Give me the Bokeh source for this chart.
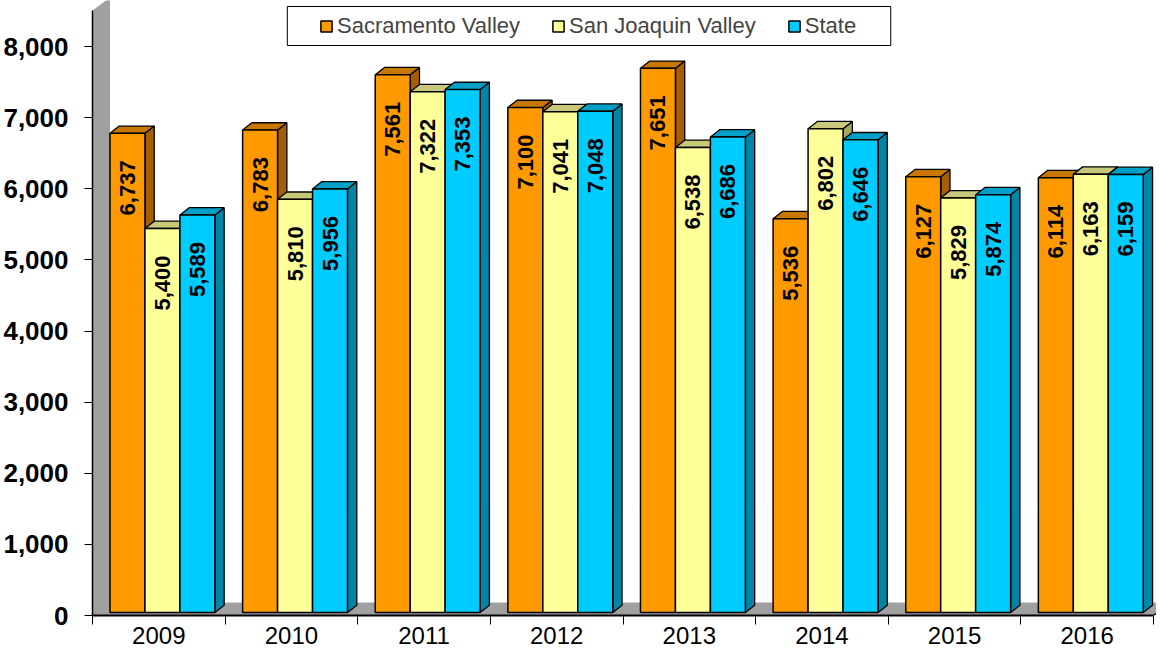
import math
from bokeh.plotting import figure
from bokeh.models import (ColumnDataSource, FixedTicker, NumeralTickFormatter,
                          Legend, LegendItem, Range1d)
from bokeh.core.properties import value
from bokeh.embed import file_html
from bokeh.resources import INLINE

# ---------------- data ----------------
years = ["2009", "2010", "2011", "2012", "2013", "2014", "2015", "2016"]
sacramento_valley = [6737, 6783, 7561, 7100, 7651, 5536, 6127, 6114]
san_joaquin_valley = [5400, 5810, 7322, 7041, 6538, 6802, 5829, 6163]
state = [5589, 5956, 7353, 7048, 6686, 6646, 5874, 6159]
series_names = ["Sacramento Valley", "San Joaquin Valley", "State"]
series_values = [sacramento_valley, san_joaquin_valley, state]
y_ticks = [0, 1000, 2000, 3000, 4000, 5000, 6000, 7000, 8000]

# ---------------- style ----------------
front_colors = ["#FF9900", "#FFFF99", "#00CCFF"]
top_colors = ["#C87800", "#C8C87A", "#00A0C8"]
side_colors = ["#A65F00", "#A6A663", "#0085A6"]
WALL_COLOR = "#A0A0A0"
FONT = "Liberation Sans"

# ---------------- geometry (pixel based) ----------------
W, H = 1156, 654
FRAME_L = 91
FRAME_B = 39
PX_PER_CAT = 132.75
PX_PER_UNIT = 0.071123
XMAX = (W - FRAME_L) / PX_PER_CAT
YMAX = (H - FRAME_B) / PX_PER_UNIT

WALL_TOP = 8500
DX = 17 / PX_PER_CAT
DY = 12.5 / PX_PER_UNIT
BAR_W = 35 / PX_PER_CAT
BAR_BASE = 3 / PX_PER_UNIT
BDX = 9.3 / PX_PER_CAT
BDY = 7.3 / PX_PER_UNIT
N = len(years)

p = figure(width=W, height=H, x_range=Range1d(0, XMAX), y_range=Range1d(0, YMAX),
           output_backend="svg", toolbar_location=None,
           min_border_left=FRAME_L, min_border_right=0, min_border_top=0,
           min_border_bottom=FRAME_B)
p.outline_line_color = None
p.xgrid.visible = False
p.ygrid.visible = False
p.background_fill_color = "white"
p.border_fill_color = "white"

# walls
p.patch([0, 0, DX, DX], [0, WALL_TOP, WALL_TOP + DY, DY],
        fill_color=WALL_COLOR, line_color=WALL_COLOR)
p.patch([0, N, N + DX, DX], [0, 0, DY, DY], fill_color=WALL_COLOR, line_color=WALL_COLOR)
p.line([N, N + DX], [0, DY], line_color="black", line_width=1.5)

# legend box (decoration)
LEG_L = (286 - FRAME_L) / PX_PER_CAT
LEG_R = (890 - FRAME_L) / PX_PER_CAT
LEG_T = (H - FRAME_B - 6) / PX_PER_UNIT
LEG_B = (H - FRAME_B - 45) / PX_PER_UNIT
p.quad(left=[LEG_L], right=[LEG_R], top=[LEG_T], bottom=[LEG_B],
       fill_color="white", line_color="black", line_width=1)

front_renderers = []
label_x, label_y, label_t = [], [], []
for k, vals in enumerate(series_values):
    cx = [i + (k + 1) * BAR_W for i in range(N)]
    x0 = [c - BAR_W / 2 for c in cx]
    x1 = [c + BAR_W / 2 for c in cx]
    tops = [v + BAR_BASE for v in vals]
    side_xs = [[a, a, a + BDX, a + BDX] for a in x1]
    side_ys = [[BAR_BASE, t, t + BDY, BAR_BASE + BDY] for t in tops]
    top_xs = [[a, b, b + BDX, a + BDX] for a, b in zip(x0, x1)]
    top_ys = [[t, t, t + BDY, t + BDY] for t in tops]
    p.patches(side_xs, side_ys, fill_color=side_colors[k], line_color="black", line_width=1.3)
    p.patches(top_xs, top_ys, fill_color=top_colors[k], line_color="black", line_width=1.3)
    src = ColumnDataSource(dict(x=cx, top=tops, bottom=[BAR_BASE] * N))
    r = p.vbar(x="x", width=BAR_W, top="top", bottom="bottom", source=src,
               fill_color=front_colors[k], line_color="black", line_width=1.5)
    front_renderers.append(r)
    label_x += cx
    label_y += tops
    label_t += [f"{v:,}" for v in vals]

lsrc = ColumnDataSource(dict(x=label_x, y=label_y, t=label_t))
p.text(x="x", y="y", text="t", source=lsrc, angle=math.pi / 2,
       text_align="right", text_baseline="middle", y_offset=27,
       text_font=value(FONT), text_font_style="bold", text_font_size=value("22px"),
       text_color="black")

# axes
xa = p.xaxis[0]
xa.ticker = FixedTicker(ticks=[i + 0.5 for i in range(N)], minor_ticks=list(range(N + 1)))
xa.major_label_overrides = {i + 0.5: y for i, y in enumerate(years)}
xa.major_tick_out = 0
xa.major_tick_in = 0
xa.minor_tick_out = 9
xa.minor_tick_in = 0
xa.minor_tick_line_color = "black"
xa.minor_tick_line_width = 1
xa.axis_line_color = "black"
xa.axis_line_width = 2
xa.bounds = (0, N)
xa.major_label_text_font = FONT
xa.major_label_text_font_size = "24px"
xa.major_label_text_color = "black"
xa.major_label_standoff = 2

ya = p.yaxis[0]
ya.ticker = FixedTicker(ticks=y_ticks)
ya.formatter = NumeralTickFormatter(format="0,0")
ya.major_tick_out = 8
ya.major_tick_in = 0
ya.minor_tick_out = 0
ya.minor_tick_in = 0
ya.major_tick_line_color = "black"
ya.axis_line_color = "black"
ya.axis_line_width = 1.5
ya.bounds = (0, WALL_TOP)
ya.major_label_text_font = FONT
ya.major_label_text_font_size = "26px"
ya.major_label_text_font_style = "bold"
ya.major_label_text_color = "black"
ya.major_label_standoff = 16

legend = Legend(items=[LegendItem(label=n, renderers=[r]) for n, r in zip(series_names, front_renderers)],
                orientation="horizontal", location=(227, 576), padding=0, spacing=31,
                label_standoff=4, glyph_width=14, glyph_height=14, margin=0,
                label_text_font=FONT, label_text_font_size="22px",
                border_line_alpha=0, background_fill_alpha=0)
p.add_layout(legend)

open("out.html", "w").write(file_html(p, INLINE))
